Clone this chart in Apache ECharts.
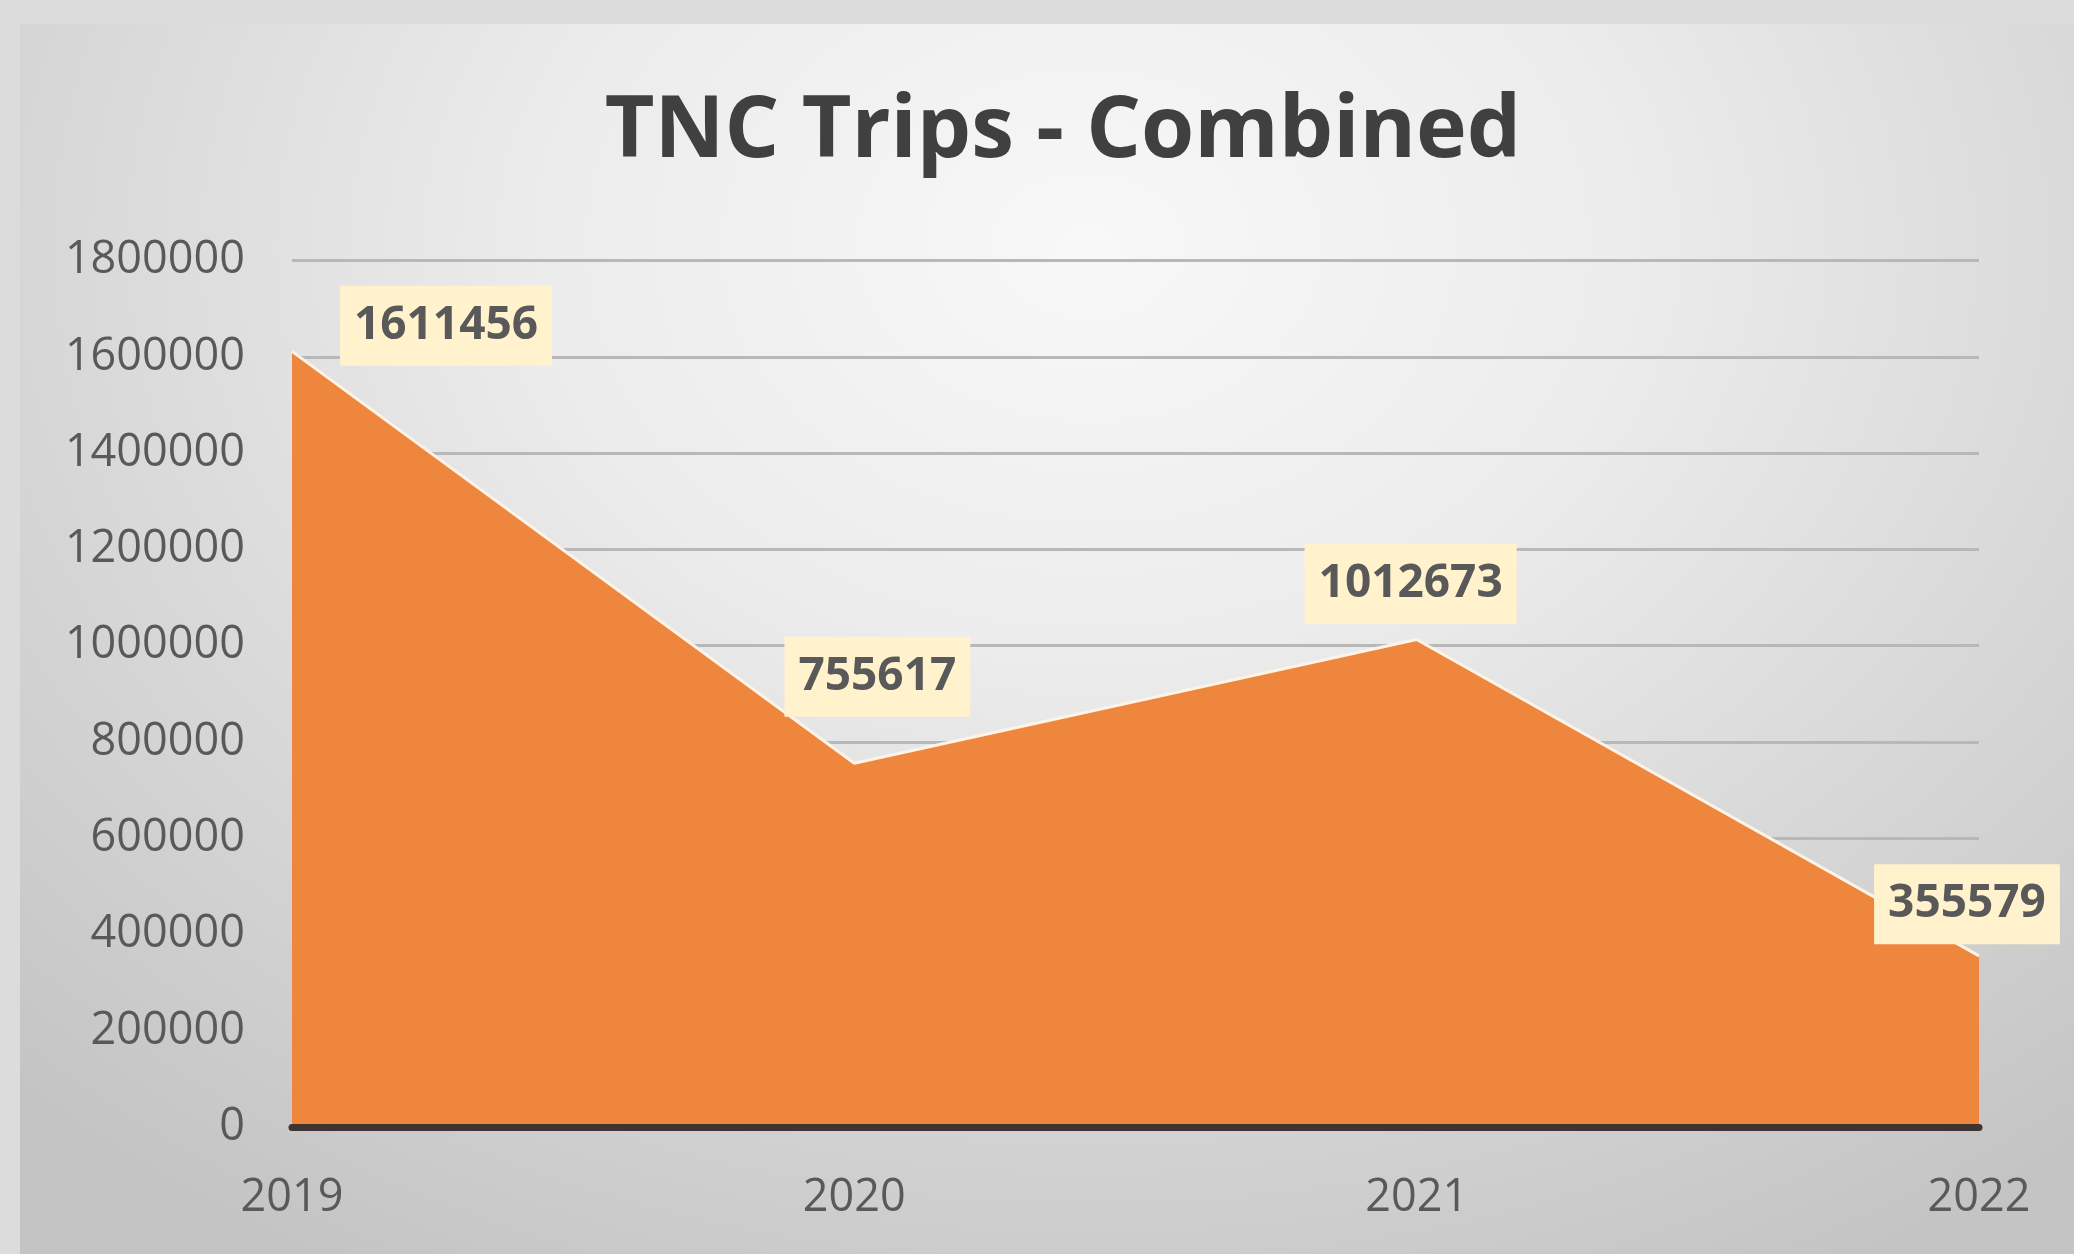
<!DOCTYPE html>
<html>
<head>
<meta charset="utf-8">
<script src="https://cdn.jsdelivr.net/npm/echarts@6/dist/echarts.min.js"></script>
<style>
  html, body { margin: 0; padding: 0; width: 2074px; height: 1254px; overflow: hidden; background: #dcdcdc; }
  #chart { position: absolute; left: 20px; top: 24px; width: 2054px; height: 1230px;
    background: radial-gradient(ellipse 75% 95% at 52% 18%, #f8f8f8 0%, #ececec 35%, #d6d6d6 70%, #c4c4c4 100%); }
</style>
</head>
<body>
<div id="chart"></div>
<script>
const titleText = 'TNC Trips - Combined';
const years = ['2019', '2020', '2021', '2022'];
const trips = [1611456, 755617, 1012673, 355579];
const labelOffsets = [[154, 20], [23, -41], [-6, -10], [-12, -6]];

const chart = echarts.init(document.getElementById('chart'), null, { renderer: 'canvas' });
const FONT = '"Open Sans", "Noto Sans", sans-serif';

chart.setOption({
  animation: false,
  title: {
    text: titleText,
    left: 1038,
    textAlign: 'center',
    top: 60,
    textStyle: { fontFamily: FONT, fontWeight: 'bold', fontSize: 86, color: '#404040' }
  },
  grid: { left: 272, right: 95, top: 236.6, bottom: 127, containLabel: false },
  xAxis: {
    type: 'category',
    data: years,
    boundaryGap: false,
    axisLine: { show: true, lineStyle: { color: '#3f3430', width: 7 } },
    axisTick: { show: false },
    axisLabel: { fontFamily: FONT, fontSize: 45, color: '#595959', margin: 49 },
    splitLine: { show: false },
    z: 5
  },
  yAxis: {
    type: 'value',
    min: 0,
    max: 1800000,
    interval: 200000,
    axisLine: { show: false },
    axisTick: { show: false },
    axisLabel: { fontFamily: FONT, fontSize: 45, color: '#595959', margin: 47,
      padding: [10, 0, 0, 0],
      formatter: v => String(v) },
    splitLine: { show: true, lineStyle: { color: '#b8b8b8', width: 3 } }
  },
  series: [{
    type: 'line',
    data: trips.map((v, i) => ({
      value: v,
      label: { offset: labelOffsets[i] }
    })),
    symbol: 'circle',
    symbolSize: 1,
    showSymbol: true,
    itemStyle: { color: 'rgba(0,0,0,0)' },
    lineStyle: { color: '#fdf3e6', width: 3 },
    areaStyle: { color: '#ee873d', opacity: 1 },
    label: {
      show: true,
      position: 'top',
      distance: 5,
      fontFamily: FONT,
      fontWeight: 'bold',
      fontSize: 46,
      lineHeight: 46,
      color: '#595959',
      backgroundColor: '#fff2cc',
      padding: [17, 14]
    },
    z: 3
  }]
});
</script>
</body>
</html>
